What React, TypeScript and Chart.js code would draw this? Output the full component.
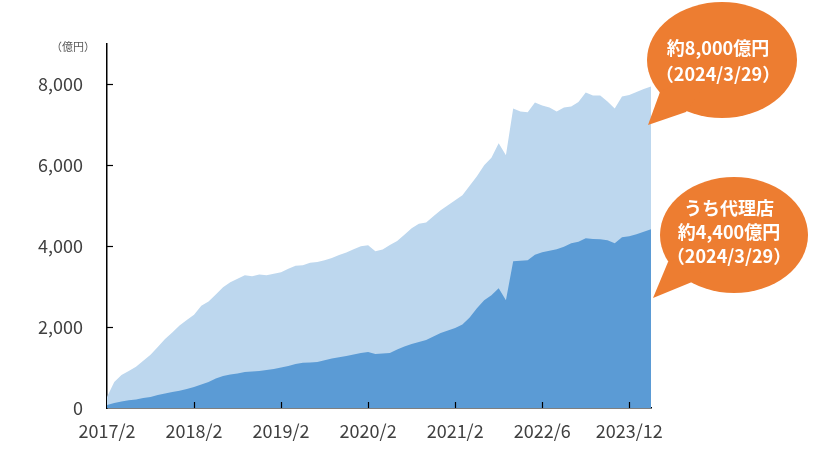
import React, { useEffect, useRef } from "react";
import { Chart, registerables } from "chart.js";

Chart.register(...registerables);

const tickLabels = ["2017/2", "2018/2", "2019/2", "2020/2", "2021/2", "2022/6", "2023/12"];
const tickEvery = 12;
const yTickValues = [0, 2000, 4000, 6000, 8000];

const totalValues = [
  272, 642, 815, 914, 1020, 1170, 1318, 1506, 1704, 1869,
  2037, 2173, 2306, 2528, 2635, 2805, 2988, 3111, 3197, 3284,
  3259, 3301, 3284, 3321, 3358, 3442, 3518, 3531, 3593, 3612,
  3654, 3711, 3780, 3844, 3926, 4000, 4025, 3876, 3921, 4030,
  4128, 4284, 4444, 4558, 4585, 4740, 4889, 5012, 5136, 5259,
  5494, 5728, 6000, 6185, 6543, 6247, 7407, 7330, 7310, 7555,
  7481, 7432, 7333, 7432, 7457, 7568, 7802, 7728, 7728, 7580,
  7407, 7703, 7740, 7815, 7889, 7950,
];

const agencyValues = [
  74, 123, 160, 190, 210, 247, 272, 321, 356, 395,
  427, 469, 518, 578, 642, 728, 790, 827, 852, 889,
  901, 914, 938, 963, 1000, 1037, 1086, 1118, 1126, 1136,
  1180, 1222, 1252, 1284, 1321, 1358, 1383, 1333, 1346, 1358,
  1444, 1518, 1580, 1630, 1679, 1765, 1852, 1914, 1975, 2062,
  2235, 2469, 2667, 2790, 2963, 2667, 3630, 3642, 3654, 3790,
  3852, 3889, 3926, 3988, 4074, 4111, 4198, 4178, 4173, 4148,
  4074, 4222, 4247, 4296, 4358, 4420,
];

const categories: string[] = totalValues.map((_, i) =>
  i % tickEvery === 0 ? tickLabels[i / tickEvery] ?? "" : ""
);

const bubble1Lines = ["約8,000億円", "（2024/3/29）"];
const bubble2Lines = ["うち代理店", "約4,400億円", "（2024/3/29）"];
const unitLabel = "（億円）";

const ORANGE = "#ED7D31";
const FONT = "'Noto Sans CJK JP', 'Noto Sans', sans-serif";

function drawBubble(
  ctx: CanvasRenderingContext2D,
  cx: number,
  cy: number,
  rx: number,
  ry: number,
  base1: [number, number],
  base2: [number, number],
  tip: [number, number],
  lines: string[],
  textCx: number,
  firstLineY: number,
  lineGap: number
) {
  ctx.save();
  ctx.fillStyle = ORANGE;
  ctx.beginPath();
  ctx.ellipse(cx, cy, rx, ry, 0, 0, Math.PI * 2);
  ctx.fill();
  ctx.beginPath();
  ctx.moveTo(base1[0], base1[1]);
  ctx.lineTo(tip[0], tip[1]);
  ctx.lineTo(base2[0], base2[1]);
  ctx.lineTo(cx, cy);
  ctx.closePath();
  ctx.fill();
  ctx.fillStyle = "#ffffff";
  ctx.font = "bold 18px " + FONT;
  ctx.textAlign = "center";
  ctx.textBaseline = "middle";
  lines.forEach((t, i) => ctx.fillText(t, textCx, firstLineY + i * lineGap));
  ctx.restore();
}

const overlayPlugin = {
  id: "overlay",
  afterDraw(chart: any) {
    const { ctx, chartArea, scales } = chart;
    const x = scales.x;
    const y = scales.y;
    ctx.save();
    ctx.strokeStyle = "#000";
    ctx.lineWidth = 1.2;
    categories.forEach((c, i) => {
      if (!c || i === 0) return;
      const px = Math.round(x.getPixelForValue(i)) + 0.5;
      ctx.beginPath();
      ctx.moveTo(px, chartArea.bottom);
      ctx.lineTo(px, chartArea.bottom - 6);
      ctx.stroke();
    });
    y.ticks.forEach((t: any) => {
      if (t.value === 0) return;
      const py = Math.round(y.getPixelForValue(t.value)) + 0.5;
      ctx.beginPath();
      ctx.moveTo(chartArea.left, py);
      ctx.lineTo(chartArea.left + 6, py);
      ctx.stroke();
    });
    ctx.fillStyle = "#595959";
    ctx.font = "11px " + FONT;
    ctx.textAlign = "center";
    ctx.textBaseline = "middle";
    ctx.fillText(unitLabel, chartArea.left - 34, chartArea.top + 3);
    ctx.restore();

    drawBubble(ctx, 722, 60, 75, 58, [660, 92], [686, 112], [648, 125], bubble1Lines, 718, 48, 26);
    drawBubble(ctx, 734, 235, 74, 58, [668, 262], [692, 282], [653, 298], bubble2Lines, 729, 208, 24);
  },
};

export default function App() {
  const ref = useRef<HTMLCanvasElement | null>(null);
  useEffect(() => {
    document.body.style.margin = "0";
    if (!ref.current) return;
    const chart = new Chart(ref.current, {
      type: "line",
      data: {
        labels: categories,
        datasets: [
          {
            label: "代理店",
            data: agencyValues,
            backgroundColor: "#5B9BD5",
            borderWidth: 0,
            pointRadius: 0,
            fill: "origin",
            tension: 0,
            order: 0,
          },
          {
            label: "合計",
            data: totalValues,
            backgroundColor: "#BDD7EE",
            borderWidth: 0,
            pointRadius: 0,
            fill: "origin",
            tension: 0,
            order: 1,
          },
        ],
      },
      options: {
        responsive: false,
        animation: false,
        layout: { padding: { left: 0, right: 163, top: 44, bottom: 0 } },
        plugins: { legend: { display: false }, tooltip: { enabled: false } },
        scales: {
          x: {
            type: "category",
            offset: false,
            grid: { display: false, drawTicks: false },
            border: { display: true, color: "#000", width: 1.5 },
            ticks: {
              autoSkip: false,
              maxRotation: 0,
              padding: 12,
              color: "#404040",
              font: { size: 18, family: FONT },
              callback: function (this: any, v: any) {
                const l = this.getLabelForValue(v);
                return l ? l : null;
              },
            },
            afterFit: (s: any) => {
              s.height = 65;
            },
          },
          y: {
            min: 0,
            max: 9000,
            grid: { display: false, drawTicks: false },
            border: { display: true, color: "#000", width: 1.5 },
            afterBuildTicks: (s: any) => {
              s.ticks = yTickValues.map((v) => ({ value: v }));
            },
            ticks: {
              padding: 24,
              color: "#404040",
              font: { size: 18, family: FONT },
              callback: (v: any) => Number(v).toLocaleString("en-US"),
            },
            afterFit: (s: any) => {
              s.width = 107;
            },
          },
        },
      },
      plugins: [overlayPlugin],
    });
    return () => chart.destroy();
  }, []);
  return (
    <div style={{ width: 814, height: 473 }}>
      <canvas ref={ref} width={814} height={473} />
    </div>
  );
}
